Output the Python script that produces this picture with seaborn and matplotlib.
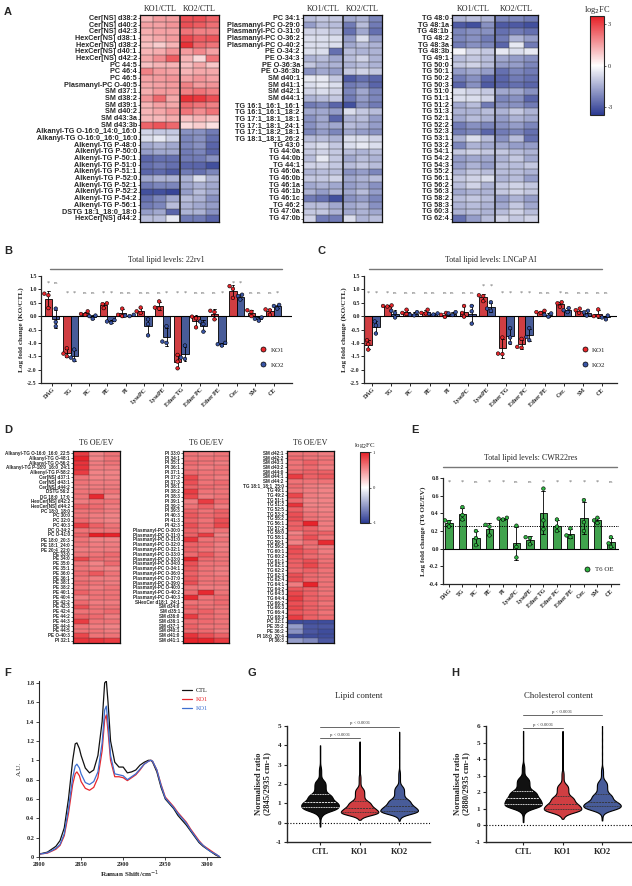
import numpy as np
import pandas as pd
import matplotlib
matplotlib.use("Agg")
import matplotlib.pyplot as plt
from matplotlib.colors import LinearSegmentedColormap, Normalize
from matplotlib.cm import ScalarMappable
from matplotlib.lines import Line2D
from matplotlib.ticker import FuncFormatter
import seaborn as sns

# ------------------------------------------------------------------
# Data
# ------------------------------------------------------------------

# --- Panel A: log2FC heatmaps (KO1/CTL x3, KO2/CTL x3) ---
A1_LABELS = ["Cer[NS] d38:2", "Cer[NS] d40:2", "Cer[NS] d42:3", "HexCer[NS] d38:1", "HexCer[NS] d38:2",
             "HexCer[NS] d40:1", "HexCer[NS] d42:2", "PC 44:5", "PC 46:4", "PC 46:5", "Plasmanyl-PC O-40:5",
             "SM d37:1", "SM d38:2", "SM d39:1", "SM d40:2", "SM d43:3a", "SM d43:3b",
             "Alkanyl-TG O-16:0_14:0_16:0", "Alkanyl-TG O-16:0_16:0_16:0", "Alkenyl-TG P-48:0",
             "Alkenyl-TG P-50:0", "Alkenyl-TG P-50:1", "Alkenyl-TG P-51:0", "Alkenyl-TG P-51:1",
             "Alkenyl-TG P-52:0", "Alkenyl-TG P-52:1", "Alkenyl-TG P-52:2", "Alkenyl-TG P-54:2",
             "Alkenyl-TG P-56:1", "DSTG 18:1_18:0_18:0", "HexCer[NS] d44:2"]
A1_VALUES = [[1.2, 1.6, 1.6, 2.8, 2.8, 2.5], [1.5, 1.5, 1.7, 2.8, 2.6, 2.3], [1.3, 1.5, 1.5, 2.2, 2.0, 2.0],
             [1.2, 1.4, 1.6, 2.9, 2.6, 2.7], [1.0, 0.8, 1.2, 3.3, 2.4, 2.2], [1.2, 1.3, 1.7, 1.6, 1.9, 1.5],
             [1.4, 1.8, 2.6, 1.2, 0.6, 2.2], [1.0, 1.2, 1.2, 1.0, 1.4, 0.9], [2.0, 1.6, 1.5, 1.2, 1.4, 1.4],
             [1.5, 1.6, 1.7, 1.5, 1.7, 1.5], [1.4, 1.5, 1.6, 2.0, 1.6, 1.7], [1.3, 1.6, 1.6, 2.0, 2.2, 2.0],
             [1.7, 2.4, 1.4, 3.3, 3.2, 2.8], [1.2, 1.5, 1.4, 2.4, 2.2, 2.0], [1.2, 1.4, 1.7, 2.2, 1.8, 2.2],
             [1.1, 1.1, 1.3, 1.0, 1.2, 1.0], [2.5, 2.7, 2.4, 0.6, 0.8, 0.5],
             [-0.8, -1.0, -1.0, -2.0, -2.0, -2.4], [-0.6, -0.4, -0.8, -2.2, -2.0, -2.6],
             [-1.6, -1.4, -1.6, -2.2, -2.0, -2.8], [-1.8, -1.6, -1.6, -2.4, -2.2, -2.8],
             [-2.8, -2.6, -2.6, -2.4, -2.4, -2.0], [-2.6, -2.4, -2.6, -2.8, -2.8, -3.2],
             [-2.8, -2.7, -3.0, -2.4, -2.6, -2.2], [-1.6, -1.4, -1.4, -1.4, -0.6, -1.4],
             [-2.4, -2.2, -2.2, -1.6, -1.4, -1.6], [-3.2, -3.2, -3.4, -1.8, -1.2, -1.6],
             [-2.6, -2.2, -1.6, -1.2, -1.4, -2.0], [-2.4, -2.2, -1.2, -1.4, -1.6, -1.8],
             [-1.8, -1.6, -2.8, -1.4, -1.4, -2.0], [-1.2, -1.2, -0.4, -2.4, -2.4, -2.8]]

A2_LABELS = ["PC 34:1", "Plasmanyl-PC O-29:0", "Plasmanyl-PC O-31:0", "Plasmanyl-PC O-36:2",
             "Plasmanyl-PC O-40:2", "PE O-34:2", "PE O-34:3", "PE O-36:3a", "PE O-36:3b", "SM d40:1",
             "SM d41:1", "SM d42:1", "SM d44:1", "TG 16:1_16:1_16:1", "TG 16:1_16:1_18:2",
             "TG 17:1_18:1_18:1", "TG 17:1_18:1_24:1", "TG 17:1_18:2_18:1", "TG 18:1_18:1_26:2",
             "TG 43:0", "TG 44:0a", "TG 44:0b", "TG 44:1", "TG 46:0a", "TG 46:0b", "TG 46:1a",
             "TG 46:1b", "TG 46:1c", "TG 46:2", "TG 47:0a", "TG 47:0b"]
A2_VALUES = [[-1.2, -1.0, -1.0, -1.6, -1.4, -2.2], [-1.8, -1.2, -1.2, -2.4, -1.2, -2.4],
             [-0.8, -0.8, -1.0, -2.6, -1.6, -2.6], [-0.6, -0.6, -0.6, -1.8, -0.6, -1.8],
             [-0.6, -0.6, -0.6, -1.6, -1.2, -1.4], [-0.6, -0.6, -2.6, -1.2, -1.4, -1.4],
             [-1.4, -1.2, -1.6, -1.2, -0.8, -1.4], [-1.0, -1.4, -1.4, -1.4, -1.2, -1.4],
             [-2.0, -1.6, -1.8, -1.0, -0.8, -1.0], [-0.4, -0.4, -1.0, -3.0, -2.6, -2.8],
             [-0.6, -0.4, -0.6, -2.4, -2.2, -2.8], [-0.8, -0.6, -0.8, -2.2, -1.6, -2.2],
             [-1.4, -1.2, -1.0, -2.4, -1.8, -2.2], [-2.4, -2.2, -2.8, -3.2, -2.0, -2.4],
             [-1.6, -1.6, -1.8, -0.6, -1.0, -1.2], [-2.0, -1.6, -2.8, -1.4, -1.2, -1.8],
             [-2.0, -1.6, -1.6, -1.2, -1.4, -1.8], [-2.2, -1.8, -2.2, -1.6, -1.8, -2.0],
             [-1.2, -1.2, -1.4, -0.6, -0.6, -0.8], [-0.8, -0.6, -1.0, -0.6, -0.4, -0.6],
             [-1.0, -0.8, -1.0, -1.2, -1.4, -1.2], [-1.2, -0.4, -1.0, -1.6, -1.2, -1.4],
             [-0.8, -0.8, -1.0, -1.2, -1.0, -1.2], [-1.4, -1.2, -1.2, -2.0, -1.8, -2.2],
             [-1.0, -1.0, -0.8, -1.6, -1.4, -1.2], [-1.6, -1.4, -1.6, -1.8, -1.6, -2.0],
             [-1.4, -1.8, -1.4, -1.6, -1.2, -1.8], [-2.4, -2.6, -3.2, -2.0, -1.8, -2.2],
             [-1.2, -1.2, -1.6, -1.6, -1.4, -2.0], [-1.0, -1.0, -1.4, -1.6, -1.4, -1.6],
             [-0.8, -2.4, -2.4, -0.6, -1.4, -1.2]]

A3_LABELS = ["TG 48:0", "TG 48:1a", "TG 48:1b", "TG 48:2", "TG 48:3a", "TG 48:3b", "TG 49:1", "TG 50:0",
             "TG 50:1", "TG 50:2", "TG 50:3", "TG 51:0", "TG 51:1", "TG 51:2", "TG 51:3", "TG 52:1",
             "TG 52:2", "TG 52:3", "TG 53:1", "TG 53:2", "TG 54:1", "TG 54:2", "TG 54:3", "TG 55:2",
             "TG 56:1", "TG 56:2", "TG 56:3", "TG 58:2", "TG 58:3", "TG 60:3", "TG 62:4"]
A3_VALUES = [[-1.4, -1.2, -1.4, -2.2, -2.2, -2.4], [-3.0, -3.2, -2.0, -3.0, -3.0, -3.2],
             [-2.2, -2.0, -2.0, -2.6, -2.4, -2.6], [-2.2, -2.0, -2.4, -2.4, -1.4, -1.8],
             [-2.4, -2.0, -2.2, -2.8, -0.4, -2.4], [-0.2, -0.8, -1.0, -0.4, -0.6, -0.4],
             [-1.2, -1.0, -1.2, -1.6, -1.8, -2.0], [-1.0, -0.8, -1.2, -1.8, -1.8, -2.2],
             [-1.8, -1.6, -1.8, -2.6, -2.2, -2.4], [-2.4, -2.0, -2.8, -2.8, -2.4, -2.6],
             [-2.8, -2.0, -3.0, -2.8, -2.6, -2.8], [-0.6, -0.8, -1.0, -1.6, -1.6, -2.0],
             [-0.6, -0.6, -0.8, -2.2, -2.0, -2.8], [-1.6, -1.2, -2.4, -2.0, -2.0, -2.4],
             [-1.4, -1.4, -1.2, -1.4, -1.0, -1.4], [-1.6, -1.2, -1.4, -1.8, -1.4, -1.6],
             [-2.4, -2.0, -2.2, -2.0, -1.8, -2.2], [-2.4, -2.2, -2.8, -2.4, -2.2, -2.6],
             [-1.4, -0.6, -1.2, -2.0, -1.2, -2.6], [-2.2, -1.4, -1.6, -1.6, -1.8, -1.8],
             [-1.0, -0.8, -1.0, -1.0, -1.2, -1.4], [-1.8, -1.6, -1.6, -1.4, -1.0, -1.6],
             [-1.8, -1.4, -1.8, -1.2, -1.2, -1.0], [-1.4, -1.0, -1.2, -1.2, -1.2, -1.4],
             [-1.0, -0.8, -0.6, -1.4, -1.2, -1.8], [-1.2, -0.8, -1.4, -1.0, -0.8, -1.0],
             [-1.6, -1.4, -1.4, -1.0, -0.8, -1.0], [-1.2, -1.0, -1.2, -1.8, -1.4, -1.8],
             [-1.4, -1.2, -1.4, -1.6, -1.0, -1.6], [-1.4, -1.2, -1.4, -1.2, -0.8, -1.2],
             [-2.6, -1.8, -1.2, -0.8, -1.0, -0.8]]

# --- Panel D: log2FC heatmaps (T6 OE/EV x3) ---
D1_LABELS = ["Alkanyl-TG O-16:0_16:0_22:5", "Alkanyl-TG O-48:1", "Alkanyl-TG O-56:2",
             "Alkanyl-TG P-18:0_16:0_24:1", "Alkenyl-TG P-58:2", "Cer[NS] d37:1", "Cer[NS] d43:1",
             "Cer[NS] d44:2", "DSTG 56:2", "DG 18:0_17:0", "HexCer[NS] d42:2", "HexCer[NS] d44:2",
             "PC 18:0_18:0", "PC 30:0", "PC 32:0", "PC 40:3", "PC O-34:2", "PC O-41:0", "PE 18:0_20:3",
             "PE 18:1_24:0", "PE 20:4_22:0", "PE 33:0", "PE 34:0", "PE 35:0", "PE 35:1", "PE 36:0",
             "PE 36:1", "PE 38:1", "PE 38:2", "PE 40:1", "PE 40:4", "PE 42:2", "PE 42:3", "PE 42:4",
             "PE 44:2", "PE 44:3", "PE 44:4", "PE 44:5", "PE O-40:3", "PI 32:1"]
D1_VALUES = [[0.86, 0.55, 0.62], [0.97, 0.55, 0.62], [0.9, 0.58, 0.62], [0.9, 0.58, 0.58], [0.86, 0.55, 0.55],
             [0.62, 0.55, 0.55], [0.62, 0.58, 0.58], [0.58, 0.58, 0.58], [0.62, 0.62, 0.62], [0.62, 0.94, 0.55],
             [0.58, 0.62, 0.62], [0.7, 0.66, 0.58], [0.62, 0.62, 0.58], [0.62, 0.58, 0.55], [0.66, 0.58, 0.55],
             [0.86, 0.7, 0.62], [0.62, 0.62, 0.62], [0.7, 1.0, 0.97], [0.62, 0.55, 0.55], [0.62, 0.58, 0.58],
             [0.58, 0.58, 0.58], [0.62, 0.62, 0.66], [0.82, 0.66, 0.62], [0.62, 0.55, 0.66], [0.62, 0.58, 0.55],
             [0.66, 0.74, 0.62], [0.62, 0.58, 0.58], [0.66, 0.62, 0.58], [0.62, 0.58, 0.62], [0.7, 0.62, 0.62],
             [0.58, 0.62, 0.62], [0.66, 0.58, 0.58], [0.78, 0.62, 0.62], [0.62, 0.62, 0.66], [0.7, 0.66, 0.58],
             [0.86, 0.62, 0.62], [0.62, 0.58, 0.55], [0.62, 0.62, 0.58], [0.82, 0.62, 0.62], [0.9, 0.9, 0.86]]

D2_LABELS = ["PI 33:0", "PI 34:1", "PI 35:1", "PI 36:1", "PI 37:1", "PI 37:2", "PI 37:3", "PI 38:1",
             "PI 38:2", "PI 38:3", "PI 39:1", "PI 39:2", "PI 39:3", "PI 40:3", "PI 41:3", "PI 42:3",
             "Plasmanyl-PC O-30:0", "Plasmanyl-PC O-31:0", "Plasmanyl-PC O-31:0", "Plasmanyl-PC O-32:0",
             "Plasmanyl-PC O-32:1", "Plasmanyl-PC O-33:0", "Plasmanyl-PC O-33:0", "Plasmanyl-PC O-34:0",
             "Plasmanyl-PC O-34:1", "Plasmanyl-PC O-36:0", "Plasmanyl-PC O-37:0", "Plasmanyl-PC O-39:0",
             "Plasmanyl-PC O-40:0", "Plasmanyl-PC O-40:2", "Plasmanyl-PC O-40:3", "SHexCer d18:1_24:1",
             "SM d34:0", "SM d35:1", "SM d36:0", "SM d36:1", "SM d37:1", "SM d40:1", "SM d41:0", "SM d41:1"]
D2_VALUES = [[0.62, 0.58, 0.62], [0.62, 0.62, 0.62], [0.66, 0.62, 0.58], [0.62, 0.58, 0.62], [0.66, 0.62, 0.62],
             [0.82, 0.62, 0.58], [0.78, 0.62, 0.66], [0.7, 0.66, 0.62], [0.86, 0.62, 0.62], [0.82, 0.58, 0.62],
             [0.58, 0.86, 0.66], [0.62, 0.7, 0.58], [0.7, 0.62, 0.7], [0.74, 0.66, 0.7], [0.7, 0.62, 0.78],
             [0.78, 0.66, 0.82], [0.7, 0.62, 0.62], [0.7, 0.86, 0.55], [0.9, 0.62, 0.62], [0.7, 0.66, 0.58],
             [0.7, 0.62, 0.58], [0.66, 0.74, 0.62], [0.97, 0.66, 0.62], [0.78, 0.62, 0.62], [0.74, 0.62, 0.58],
             [0.7, 0.62, 0.58], [0.74, 0.62, 0.62], [0.78, 0.62, 0.62], [0.62, 0.58, 0.58], [0.66, 0.94, 0.62],
             [0.94, 0.62, 0.66], [0.62, 0.62, 0.66], [0.7, 0.62, 0.62], [0.66, 0.7, 0.62], [0.86, 0.66, 0.62],
             [0.66, 0.66, 0.62], [0.7, 0.62, 0.62], [0.66, 0.66, 0.58], [0.9, 0.78, 0.7], [0.97, 0.97, 0.86]]

D3_LABELS = ["SM d42:1", "SM d42:2", "SM d43:1", "SM d43:2", "SM d44:0", "SM d44:1", "SM d44:2",
             "TG 18:1_18:1_25:0", "TG 49:1", "TG 49:2", "TG 51:1", "TG 51:2", "TG 52:5", "TG 53:2",
             "TG 55:2", "TG 56:1", "TG 57:2", "TG 58:0", "TG 58:1", "TG 59:1", "TG 59:2", "TG 60:1",
             "TG 60:2", "TG 61:1", "TG 62:1", "TG 62:2", "TG 62:3", "TG 62:4", "TG 64:1", "TG 64:2",
             "TG 64:3", "TG 64:4", "TG 66:2", "TG 66:3", "TG 66:4", "TG 68:3", "PC 32:1", "PE 35:2",
             "PE 36:2", "PI 18:0_20:4", "PI 36:3"]
D3_VALUES = [[0.62, 0.62, 0.58], [0.66, 0.62, 0.62], [0.62, 0.7, 0.62], [0.62, 0.66, 0.58], [0.66, 0.7, 0.7],
             [0.86, 0.7, 0.74], [0.62, 0.62, 0.62], [0.66, 0.58, 0.55], [0.62, 0.58, 0.55], [0.82, 0.58, 0.55],
             [0.66, 0.55, 0.55], [0.9, 0.55, 0.55], [0.7, 0.58, 0.55], [0.78, 0.62, 0.58], [0.78, 0.62, 0.58],
             [0.7, 0.97, 0.58], [0.7, 0.7, 0.58], [0.55, 0.7, 0.7], [0.62, 0.78, 0.62], [0.55, 0.66, 0.94],
             [0.78, 0.62, 0.58], [0.78, 0.7, 0.58], [0.74, 0.66, 0.62], [0.7, 0.78, 0.62], [0.7, 0.82, 0.66],
             [0.66, 0.7, 0.62], [0.78, 0.66, 0.62], [0.78, 0.66, 0.62], [0.58, 0.97, 0.62], [0.74, 0.7, 0.62],
             [0.82, 0.7, 0.62], [0.86, 0.7, 0.66], [0.78, 0.7, 0.62], [0.82, 0.7, 0.66], [0.74, 0.7, 0.62],
             [0.86, 0.7, 0.66], [-0.9, -0.9, -0.9], [-0.5, -0.85, -0.85], [-0.55, -0.85, -0.9],
             [-0.9, -0.9, -0.9], [-0.5, -0.6, -0.85]]

# --- Panels B, C, E: total lipid levels (replicate log fold changes) ---
CLASSES = ["DAG", "TG", "PC", "PE", "PI", "LysoPC", "LysoPE", "Ether TG", "Ether PC", "Ether PE",
           "Cer.", "SM", "CE"]

B_KO1 = [[0.84, 0.78, 0.3], [-1.2, -1.4, -1.5], [0.18, 0.08, 0.05], [0.48, 0.45, 0.3], [0.28, 0.05, 0.0],
         [0.32, 0.18, 0.12], [0.55, 0.32, 0.28], [-1.45, -1.7, -1.95], [-0.02, -0.08, -0.42],
         [0.2, 0.15, -0.12], [1.12, 1.02, 0.68], [0.22, 0.16, 0.0], [0.25, 0.22, 0.05]]
B_KO2 = [[0.28, -0.22, -0.38], [-1.25, -1.55, -1.65], [0.02, -0.1, 0.0], [-0.15, -0.25, -0.2],
         [0.05, 0.0, 0.02], [-0.72, -0.3, -0.12], [-0.38, -0.95, -1.0], [-1.1, -1.55, -1.6],
         [-0.2, -0.3, -0.58], [-1.0, -1.05, -1.1], [0.8, 0.75, 0.62], [-0.05, -0.1, -0.17],
         [0.42, 0.38, 0.28]]
B_SIG_KO1 = ["*", "*", "ns", "*", "ns", "ns", "ns", "*", "ns", "ns", "*", "ns", "ns"]
B_SIG_KO2 = ["ns", "*", "ns", "*", "ns", "ns", "*", "*", "ns", "*", "*", "ns", "*"]
B_SIG_Y = [1.22, 0.85, 0.85, 0.85, 0.85, 0.85, 0.85, 0.85, 0.85, 0.85, 1.22, 0.85, 0.85]

C_KO1 = [[-0.9, -1.05, -1.25], [0.4, 0.36, 0.38], [0.24, 0.12, 0.08], [0.24, 0.12, 0.1], [0.12, 0.05, -0.03],
         [0.38, 0.12, -0.02], [0.78, 0.75, 0.56], [-0.8, -1.4, -1.42], [-0.85, -1.15, -1.18],
         [0.2, 0.15, 0.12], [0.52, 0.48, 0.35], [0.28, 0.22, 0.12], [0.25, 0.0, 0.0]]
C_KO2 = [[-0.2, -0.35, -0.65], [0.2, 0.12, -0.05], [0.15, 0.05, 0.03], [0.1, 0.08, 0.06], [0.15, 0.1, 0.04],
         [0.38, 0.18, -0.28], [0.52, 0.28, 0.2], [-0.45, -0.8, -1.0], [-0.45, -0.78, -0.9],
         [0.1, 0.05, -0.02], [0.3, 0.22, 0.15], [0.2, 0.14, 0.02], [0.02, -0.05, -0.12]]
C_SIG_KO1 = ["*", "*", "ns", "ns", "ns", "ns", "*", "*", "*", "ns", "*", "ns", "ns"]
C_SIG_KO2 = ["*", "ns", "ns", "ns", "ns", "ns", "*", "*", "*", "ns", "ns", "ns", "ns"]
C_SIG_Y = [0.85, 0.85, 0.85, 0.85, 0.85, 0.85, 1.12, 0.85, 0.85, 0.85, 0.85, 0.85, 0.85]

E_T6 = [[0.32, 0.3, 0.25], [0.47, 0.38, 0.33], [0.2, 0.12, 0.04], [0.27, 0.25, 0.15], [0.35, 0.34, 0.33],
        [0.26, 0.02, -0.1], [0.13, 0.12, 0.05], [0.68, 0.32, 0.22], [0.33, 0.25, 0.2], [0.23, 0.15, 0.13],
        [0.55, 0.3, 0.2], [0.35, 0.32, 0.29], [0.13, 0.06, 0.02]]
E_SIG = ["*", "*", "ns", "*", "*", "ns", "ns", "*", "*", "*", "*", "*", "ns"]
E_REF = 0.26

# --- Panel F: Raman spectra ---
SHIFT = [2800, 2805, 2810, 2815, 2820, 2825, 2830, 2835, 2840, 2843, 2845, 2848, 2850, 2855, 2860, 2865,
         2870, 2875, 2878, 2880, 2882, 2885, 2890, 2895, 2900, 2905, 2910, 2915, 2920, 2925, 2930, 2933,
         2935, 2940, 2945, 2950, 2955, 2960, 2965, 2970, 2975, 2980, 2985, 2990, 2995, 3000, 3005, 3010, 3015]
SPEC_CTL = [0.03, 0.04, 0.05, 0.08, 0.11, 0.17, 0.3, 0.6, 1.0, 1.17, 1.18, 1.12, 1.05, 0.92, 0.87, 0.9,
            1.05, 1.4, 1.8, 1.82, 1.6, 1.2, 0.98, 0.93, 0.93, 0.87, 0.88, 0.9, 0.95, 0.98, 1.0, 1.0,
            0.98, 0.88, 0.72, 0.6, 0.55, 0.5, 0.43, 0.38, 0.33, 0.27, 0.21, 0.15, 0.11, 0.08, 0.05, 0.02, 0.0]
SPEC_KO1 = [0.03, 0.035, 0.04, 0.06, 0.08, 0.12, 0.22, 0.45, 0.75, 0.86, 0.88, 0.84, 0.78, 0.71, 0.69, 0.72,
            0.82, 1.1, 1.42, 1.47, 1.3, 1.0, 0.83, 0.83, 0.82, 0.79, 0.82, 0.85, 0.9, 0.96, 0.99, 1.0,
            0.99, 0.9, 0.75, 0.62, 0.57, 0.52, 0.46, 0.41, 0.36, 0.29, 0.23, 0.17, 0.12, 0.09, 0.06, 0.03, 0.0]
SPEC_KO2 = [0.03, 0.035, 0.045, 0.065, 0.09, 0.13, 0.24, 0.5, 0.82, 0.94, 0.96, 0.92, 0.86, 0.77, 0.75, 0.78,
            0.88, 1.18, 1.52, 1.56, 1.38, 1.05, 0.86, 0.85, 0.84, 0.8, 0.83, 0.86, 0.91, 0.96, 0.99, 1.0,
            0.99, 0.9, 0.74, 0.61, 0.56, 0.51, 0.45, 0.4, 0.35, 0.28, 0.22, 0.16, 0.12, 0.08, 0.05, 0.03, 0.0]

# --- Panels G, H: distribution quantiles of normalised ratios ---
GROUPS = ["CTL", "KO1", "KO2"]
QLEVELS = [0.0, 0.01, 0.05, 0.25, 0.5, 0.75, 0.95, 0.99, 1.0]
G_QUANT = {"CTL": [-0.2, 0.35, 0.6, 0.82, 1.08, 1.48, 2.2, 2.9, 4.0],
           "KO1": [0.15, 0.3, 0.42, 0.55, 0.78, 1.12, 1.8, 2.5, 4.2],
           "KO2": [0.1, 0.35, 0.48, 0.62, 0.86, 1.22, 1.9, 2.7, 4.7]}
H_QUANT = {"CTL": [0.2, 0.8, 1.05, 1.3, 1.65, 2.1, 2.9, 3.7, 5.7],
           "KO1": [0.4, 0.6, 0.8, 1.0, 1.3, 1.75, 2.5, 3.3, 5.7],
           "KO2": [0.3, 0.75, 0.95, 1.15, 1.42, 1.9, 2.7, 3.5, 6.0]}

# ------------------------------------------------------------------
# Style / layout helpers
# ------------------------------------------------------------------
sns.set_style("ticks")
plt.rcParams['font.family'] = ['Liberation Sans', 'DejaVu Sans']
plt.rcParams['axes.unicode_minus'] = False
SERIF = 'Liberation Serif'
RED = "#e8262b"
BLUE = "#3a55a6"
GREEN = "#2fb341"
CMAP = LinearSegmentedColormap.from_list("bwr_fig", ["#2b3a92", "#ffffff", "#e61e25"])

W, H = 632, 886
fig = plt.figure(figsize=(W / 100, H / 100), dpi=100)


def px_axes(x0, y0, x1, y1):
    return fig.add_axes([x0 / W, 1 - y1 / H, (x1 - x0) / W, (y1 - y0) / H])


def letter(x, y, s):
    fig.text(x / W, 1 - y / H, s, fontsize=8, fontweight='bold', va='center', ha='left')


def heat(ax, labels, values, vmin, vmax, fs, split, lw):
    arr = np.array(values)
    sns.heatmap(arr, ax=ax, cmap=CMAP, vmin=vmin, vmax=vmax, cbar=False,
                linewidths=0, xticklabels=False, yticklabels=labels)
    nr, nc = arr.shape
    ax.hlines(np.arange(1, nr), 0, nc, color="#3a3a3a", lw=lw)
    ax.vlines(np.arange(1, nc), 0, nr, color="#3a3a3a", lw=lw)
    ax.tick_params(axis='y', length=1.5, width=0.5, pad=0.8, labelsize=fs, left=True)
    for t in ax.get_yticklabels():
        t.set_fontweight('bold')
        t.set_rotation(0)
    if split:
        ax.axvline(3, color='#222222', lw=1.1)
    for s in ax.spines.values():
        s.set_visible(True)
        s.set_linewidth(0.9)
        s.set_color('#111111')


def colorbar(cax, vmin, vmax, ticks, fs):
    cb = fig.colorbar(ScalarMappable(norm=Normalize(vmin, vmax), cmap=CMAP), cax=cax, ticks=ticks)
    cb.outline.set_linewidth(0.8)
    cax.tick_params(labelsize=fs, length=1.5, width=0.5, pad=1)
    for t in cax.get_yticklabels():
        t.set_family(SERIF)
    cax.set_title("log$_2$FC", fontsize=fs + 1.5, family=SERIF, pad=3)


def long_df(series):
    rows = []
    for grp, vals in series.items():
        for cls, pts in zip(CLASSES, vals):
            for v in pts:
                rows.append((cls, grp, v))
    return pd.DataFrame(rows, columns=["cls", "grp", "val"])


def style_ticks(ax, fs):
    for t in ax.get_xticklabels() + ax.get_yticklabels():
        t.set_family(SERIF)
        t.set_fontweight('bold')
        t.set_fontsize(fs)


def bar_panel(ax, series, palette, width, ylim, yticks, ylabel, xlim):
    df = long_df(series)
    groups = list(series.keys())
    sns.barplot(data=df, x="cls", y="val", hue="grp", order=CLASSES, hue_order=groups, palette=palette,
                errorbar="sd", capsize=0.3, err_kws={"linewidth": 0.6, "color": "black"},
                edgecolor="black", linewidth=0.6, width=width, legend=False, ax=ax)
    sns.swarmplot(data=df, x="cls", y="val", hue="grp", order=CLASSES, hue_order=groups, palette=palette,
                  dodge=True, size=2.6, edgecolor="black", linewidth=0.4, legend=False, ax=ax)
    ax.axhline(0, color="black", lw=0.8)
    ax.set_ylim(*ylim)
    ax.set_yticks(yticks)
    ax.set_xlim(*xlim)
    ax.yaxis.set_major_formatter(FuncFormatter(lambda v, p: f"{v:.1f}"))
    ax.set_xlabel("")
    ax.set_ylabel(ylabel, family=SERIF, fontweight='bold', fontsize=5.2, labelpad=2)
    sns.despine(ax=ax)
    for s in ["left", "bottom"]:
        ax.spines[s].set_linewidth(0.9)
    ax.tick_params(length=2, width=0.7, pad=1)
    ax.set_xticks(range(len(CLASSES)))
    ax.set_xticklabels(CLASSES, rotation=45, ha="right", rotation_mode="anchor")
    style_ticks(ax, 4.3)


def panel_title(ax, text, ytext, yline, x0, x1):
    ax.text(0.5, ytext, text, transform=ax.transAxes, ha="center", va="center",
            family=SERIF, fontsize=5.8)
    ax.plot([x0, x1], [yline, yline], transform=ax.transAxes, color="#777777", lw=1.0, clip_on=False)


def sig_marks(ax, marks, ys, offsets):
    for mk, off in zip(marks, offsets):
        for i, (m, y) in enumerate(zip(mk, ys)):
            ax.text(i + off, y, m, ha="center", va="center", fontsize=3.6 if m == "ns" else 4.5,
                    color="#666666", family=SERIF)


def dot_legend(ax, labels, colors, anchor):
    handles = [Line2D([], [], ls="", marker="o", markersize=3.6, markerfacecolor=c,
                      markeredgecolor="black", markeredgewidth=0.5) for c in colors]
    ax.legend(handles, labels, loc="center left", bbox_to_anchor=anchor, frameon=False,
              prop={"family": SERIF, "size": 5}, handlelength=1, handletextpad=0.6,
              labelspacing=1.3, borderpad=0, borderaxespad=0)


# ------------------------------------------------------------------
# Panel A
# ------------------------------------------------------------------
letter(4, 12, "A")
for (x0, x1), labels, vals in [((140, 219), A1_LABELS, A1_VALUES),
                               ((303, 382), A2_LABELS, A2_VALUES),
                               ((452, 538), A3_LABELS, A3_VALUES)]:
    ax = px_axes(x0, 15, x1, 222)
    heat(ax, labels, vals, -3.6, 3.6, 5.2, True, 0.35)
    for xx, txt in [(0.25, "KO1/CTL"), (0.75, "KO2/CTL")]:
        ax.text(xx, 1.012, txt, transform=ax.transAxes, ha="center", va="bottom",
                family=SERIF, fontsize=5.8)
colorbar(px_axes(590, 16, 604, 115), -3.6, 3.6, [-3, 0, 3], 4.5)

# ------------------------------------------------------------------
# Panels B and C
# ------------------------------------------------------------------
letter(4, 251, "B")
axB = px_axes(41, 276, 292, 383)
bar_panel(axB, {"KO1": B_KO1, "KO2": B_KO2}, [RED, BLUE], 0.8, (-2.5, 1.5),
          np.arange(-2.5, 1.51, 0.5), "Log fold change (KO/CTL)", (-0.6, 13.0))
sig_marks(axB, [B_SIG_KO1, B_SIG_KO2], B_SIG_Y, [-0.2, 0.2])
panel_title(axB, "Total lipid levels: 22rv1", 1.15, 1.065, 0.036, 0.96)
dot_legend(axB, ["KO1", "KO2"], [RED, BLUE], (0.87, 0.24))

letter(317, 251, "C")
axC = px_axes(364, 276, 617, 383)
bar_panel(axC, {"KO1": C_KO1, "KO2": C_KO2}, [RED, BLUE], 0.8, (-2.5, 1.5),
          np.arange(-2.5, 1.51, 0.5), "Log fold change (KO/CTL)", (-0.42, 12.78))
sig_marks(axC, [C_SIG_KO1, C_SIG_KO2], C_SIG_Y, [-0.2, 0.2])
panel_title(axC, "Total lipid levels: LNCaP AI", 1.15, 1.065, 0.02, 0.94)
dot_legend(axC, ["KO1", "KO2"], [RED, BLUE], (0.858, 0.24))

# ------------------------------------------------------------------
# Panel D
# ------------------------------------------------------------------
letter(4, 430, "D")
for (x0, x1), labels, vals in [((73, 120), D1_LABELS, D1_VALUES),
                               ((183, 229), D2_LABELS, D2_VALUES),
                               ((287, 334), D3_LABELS, D3_VALUES)]:
    ax = px_axes(x0, 451, x1, 643)
    heat(ax, labels, vals, -1, 1, 3.3, False, 0.25)
    ax.text(0.5, 1.02, "T6 OE/EV", transform=ax.transAxes, ha="center", va="bottom",
            family=SERIF, fontsize=5.8)
colorbar(px_axes(360, 452, 369, 523), -1, 1, [-1, 0, 1], 3.4)

# ------------------------------------------------------------------
# Panel E
# ------------------------------------------------------------------
letter(411, 430, "E")
axE = px_axes(443, 478, 619, 584)
bar_panel(axE, {"T6 OE": E_T6}, [GREEN], 0.55, (-0.4, 0.8), np.arange(-0.4, 0.81, 0.2),
          "Log fold change (T6 OE/EV)", (-0.44, 12.6))
axE.axhline(E_REF, color="black", lw=0.7, ls=(0, (1.2, 1.2)))
sig_marks(axE, [E_SIG], [0.75] * len(CLASSES), [0.0])
panel_title(axE, "Total lipid levels: CWR22res", 1.19, 1.10, 0.0, 0.99)
dot_legend(axE, ["T6 OE"], [GREEN], (0.80, 0.14))

# ------------------------------------------------------------------
# Panel F
# ------------------------------------------------------------------
letter(4, 673, "F")
axF = px_axes(39, 681, 220, 857)
spec = pd.DataFrame({"shift": SHIFT * 3,
                     "au": SPEC_CTL + SPEC_KO1 + SPEC_KO2,
                     "grp": ["CTL"] * len(SHIFT) + ["KO1"] * len(SHIFT) + ["KO1 "] * len(SHIFT)})
sns.lineplot(data=spec, x="shift", y="au", hue="grp", palette=["#111111", "#e8262b", "#3d6fd0"],
             linewidth=0.9, ax=axF, legend=False)
axF.set_xlim(2800, 3015)
axF.set_ylim(0, 1.82)
axF.set_yticks(np.arange(0, 1.81, 0.2))
axF.yaxis.set_major_formatter(FuncFormatter(lambda v, p: f"{v:g}"))
axF.set_xticks([2800, 2850, 2900, 2950, 3000])
sns.despine(ax=axF)
axF.tick_params(length=2, width=0.6, pad=1.5)
style_ticks(axF, 4.6)
axF.set_xlabel("Raman Shift/cm$^{-1}$", family=SERIF, fontweight='bold', fontsize=5.2, labelpad=1)
axF.set_ylabel("A.U.", family=SERIF, fontsize=5.2, labelpad=3)
legF = axF.legend([Line2D([], [], color=c, lw=0.9) for c in ["#111111", "#e8262b", "#3d6fd0"]],
                  ["CTL", "KO1", "KO1"], loc="upper left", bbox_to_anchor=(0.79, 0.96), frameon=False,
                  prop={"family": SERIF, "size": 4.5}, handlelength=1.6, handletextpad=0.6,
                  labelspacing=0.55, borderpad=0, borderaxespad=0)
for t, c in zip(legF.get_texts(), ["#111111", "#e8262b", "#3d6fd0"]):
    t.set_color(c)


# ------------------------------------------------------------------
# Panels G and H
# ------------------------------------------------------------------
def violin_panel(ax, quant, ylim, title, ylabel, brackets, xlim):
    rows = []
    grid = np.linspace(0, 1, 600)
    for g in GROUPS:
        for v in np.interp(grid, QLEVELS, quant[g]):
            rows.append((g, v))
    df = pd.DataFrame(rows, columns=["grp", "val"])
    sns.violinplot(data=df, x="grp", y="val", hue="grp", order=GROUPS, hue_order=GROUPS,
                   palette=["#111111", RED, BLUE], inner="quart", cut=0, bw_adjust=0.7,
                   density_norm="width", width=0.95, linewidth=0.8, linecolor="black",
                   inner_kws={"linewidth": 0.6}, legend=False, ax=ax)
    for ln in ax.lines:
        xd = np.asarray(ln.get_xdata(), dtype=float)
        if len(xd) and np.mean(xd) < 0.5:
            ln.set_color("white")
        else:
            ln.set_color("#333333")
    ax.axhline(0, color="black", lw=0.8, ls=(0, (1, 1.6)))
    ax.set_ylim(*ylim)
    ax.set_yticks(range(ylim[0], ylim[1] + 1))
    ax.set_xlim(*xlim)
    ax.set_xlabel("")
    ax.set_ylabel(ylabel, family=SERIF, fontweight='bold', fontsize=6.2, labelpad=3, linespacing=1.1)
    sns.despine(ax=ax)
    for s in ["left", "bottom"]:
        ax.spines[s].set_linewidth(1.0)
    ax.tick_params(length=2.5, width=0.8, pad=1.5)
    style_ticks(ax, 5.2)
    for t in ax.get_xticklabels():
        t.set_fontsize(6)
    ax.text(0.5, 1.26, title, transform=ax.transAxes, ha="center", va="center", family=SERIF, fontsize=6.3)
    for (a, b), y in brackets:
        ax.plot([a, b], [y, y], color="#666666", lw=0.7, clip_on=False)
        ax.text((a + b) / 2, y + (ylim[1] - ylim[0]) * 0.012, "p < 0.0001", ha="center", va="bottom",
                family=SERIF, fontsize=3.4, color="#333333", clip_on=False)


letter(248, 673, "G")
axG = px_axes(287, 726, 430, 842)
violin_panel(axG, G_QUANT, (-1, 5), "Lipid content", "Normalised ratio\n(2845/2935 cm-1)",
             [((0, 1), 4.38), ((0, 2), 4.96)], (-0.835, 2.78))

letter(451, 673, "H")
axH = px_axes(486, 726, 632, 842)
violin_panel(axH, H_QUANT, (-1, 6), "Cholesterol content", "Normalised ratio\n(2880/2935 cm-1)",
             [((0, 1), 5.86), ((0, 2), 6.66)], (-0.94, 2.76))

fig.savefig("out.png", dpi=100)
